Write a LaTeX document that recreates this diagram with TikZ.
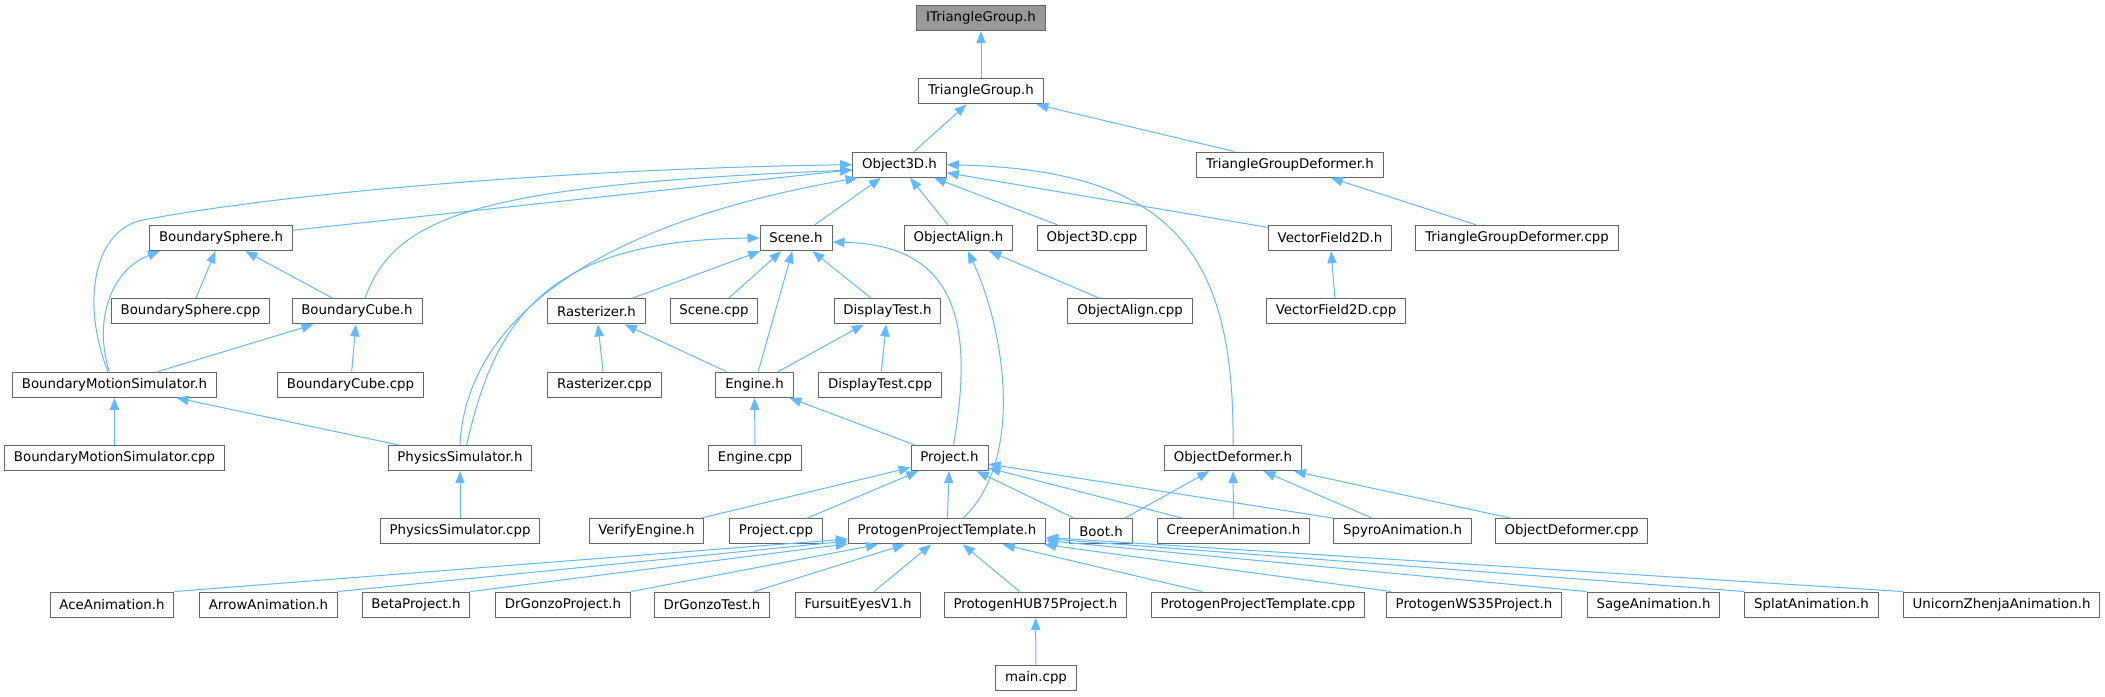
\documentclass[tikz,border=0pt]{standalone}
\usepackage{fontspec}
\setmainfont{DejaVu Sans}
\usepackage{tikz}
\usetikzlibrary{arrows.meta}
\definecolor{edgeblue}{HTML}{63B8FF}
\definecolor{boxline}{HTML}{666666}
\definecolor{rootfill}{HTML}{999999}
\tikzset{
  hfile/.style={draw=boxline, fill=white, line width=0.75pt, inner xsep=7pt, inner ysep=0pt, minimum height=19pt, font=\fontsize{10}{12}\selectfont},
  rootfile/.style={hfile, fill=rootfill},
  dep/.style={-{Triangle[length=9pt, width=7pt]}, line width=0.75pt, draw=edgeblue}
}

\begin{document}
\begin{tikzpicture}[x=0.75pt, y=-0.75pt]
  \fill[white] (0,0) rectangle (2105,696);
  \useasboundingbox (0,0) rectangle (2105,696);

  % top of the graph
  \node[rootfile] (itg) at (981,18) {ITriangleGroup.h};
  \node[hfile] (tg) at (981,91.3) {TriangleGroup.h};
  \node[hfile] (obj3d) at (899.5,164.7) {Object3D.h};
  \node[hfile] (tgd) at (1290,164.7) {TriangleGroupDeformer.h};

  \node[hfile] (bsph) at (221,238) {BoundarySphere.h};
  \node[hfile] (scene) at (796,238) {Scene.h};
  \node[hfile] (oalign) at (958.5,238) {ObjectAlign.h};
  \node[hfile] (obj3dcpp) at (1092,238) {Object3D.cpp};
  \node[hfile] (vf) at (1330,238) {VectorField2D.h};
  \node[hfile] (tgdcpp) at (1517,238) {TriangleGroupDeformer.cpp};

  \node[hfile] (bsphcpp) at (190.5,311.3) {BoundarySphere.cpp};
  \node[hfile] (bcube) at (357,311.3) {BoundaryCube.h};
  \node[hfile] (rast) at (596.5,311.3) {Rasterizer.h};
  \node[hfile] (scenecpp) at (714,311.3) {Scene.cpp};
  \node[hfile] (dtest) at (887.5,311.3) {DisplayTest.h};
  \node[hfile] (oaligncpp) at (1130,311.3) {ObjectAlign.cpp};
  \node[hfile] (vfcpp) at (1336,311.3) {VectorField2D.cpp};

  \node[hfile] (bms) at (114.5,384.7) {BoundaryMotionSimulator.h};
  \node[hfile] (bcubecpp) at (350.5,384.7) {BoundaryCube.cpp};
  \node[hfile] (rastcpp) at (604.5,384.7) {Rasterizer.cpp};
  \node[hfile] (engine) at (754.5,384.7) {Engine.h};
  \node[hfile] (dtestcpp) at (880,384.7) {DisplayTest.cpp};

  \node[hfile] (bmscpp) at (114.5,458) {BoundaryMotionSimulator.cpp};
  \node[hfile] (phys) at (460,458) {PhysicsSimulator.h};
  \node[hfile] (enginecpp) at (755,458) {Engine.cpp};
  \node[hfile] (project) at (949.5,458) {Project.h};
  \node[hfile] (odef) at (1233,458) {ObjectDeformer.h};

  \node[hfile] (physcpp) at (460,531.3) {PhysicsSimulator.cpp};
  \node[hfile] (verify) at (646.5,531.3) {VerifyEngine.h};
  \node[hfile] (projcpp) at (776,531.3) {Project.cpp};
  \node[hfile] (ppt) at (947,531.3) {ProtogenProjectTemplate.h};
  \node[hfile] (boot) at (1101,531.3) {Boot.h};
  \node[hfile] (creeper) at (1233.5,531.3) {CreeperAnimation.h};
  \node[hfile] (spyro) at (1402.5,531.3) {SpyroAnimation.h};
  \node[hfile] (odefcpp) at (1571.5,531.3) {ObjectDeformer.cpp};

  % users of the project template
  \node[hfile] (ace) at (112,604.7) {AceAnimation.h};
  \node[hfile] (arrowanim) at (268.5,604.7) {ArrowAnimation.h};
  \node[hfile] (beta) at (416,604.7) {BetaProject.h};
  \node[hfile] (drgp) at (563,604.7) {DrGonzoProject.h};
  \node[hfile] (drgt) at (712,604.7) {DrGonzoTest.h};
  \node[hfile] (fursuit) at (858,604.7) {FursuitEyesV1.h};
  \node[hfile] (hub75) at (1035.5,604.7) {ProtogenHUB75Project.h};
  \node[hfile] (pptcpp) at (1258,604.7) {ProtogenProjectTemplate.cpp};
  \node[hfile] (ws35) at (1474,604.7) {ProtogenWS35Project.h};
  \node[hfile] (sage) at (1653.5,604.7) {SageAnimation.h};
  \node[hfile] (splat) at (1811.5,604.7) {SplatAnimation.h};
  \node[hfile] (unicorn) at (2001.5,604.7) {UnicornZhenjaAnimation.h};

  \node[hfile] (maincpp) at (1036,678) {main.cpp};

  % straight includes
  \draw[dep] (tg) -- (itg);
  \draw[dep] (obj3d) -- (tg);
  \draw[dep] (tgd) -- (tg);
  \draw[dep] (tgdcpp) -- (tgd);
  \draw[dep] (bsph) -- (obj3d);
  \draw[dep] (scene) -- (obj3d);
  \draw[dep] (oalign) -- (obj3d);
  \draw[dep] (obj3dcpp) -- (obj3d);
  \draw[dep] (vf) -- (obj3d);
  \draw[dep] (vfcpp) -- (vf);
  \draw[dep] (oaligncpp) -- (oalign);
  \draw[dep] (bsphcpp) -- (bsph);
  \draw[dep] (bcube) -- (bsph);
  \draw[dep] (bms) -- (bcube);
  \draw[dep] (bcubecpp) -- (bcube);
  \draw[dep] (bmscpp) -- (bms);
  \draw[dep] (phys) -- (bms);
  \draw[dep] (physcpp) -- (phys);
  \draw[dep] (rast) -- (scene);
  \draw[dep] (scenecpp) -- (scene);
  \draw[dep] (engine) -- (scene);
  \draw[dep] (dtest) -- (scene);
  \draw[dep] (rastcpp) -- (rast);
  \draw[dep] (engine) -- (rast);
  \draw[dep] (engine) -- (dtest);
  \draw[dep] (dtestcpp) -- (dtest);
  \draw[dep] (enginecpp) -- (engine);
  \draw[dep] (project) -- (engine);
  \draw[dep] (verify) -- (project);
  \draw[dep] (projcpp) -- (project);
  \draw[dep] (ppt) -- (project);
  \draw[dep] (boot) -- (project);
  \draw[dep] (creeper) -- (project);
  \draw[dep] (spyro.north west) -- (project);
  \draw[dep] (boot) -- (odef);
  \draw[dep] (creeper) -- (odef);
  \draw[dep] (spyro) -- (odef);
  \draw[dep] (odefcpp) -- (odef);
  \draw[dep] (ace.north east) -- (ppt);
  \draw[dep] (arrowanim.north east) -- (ppt);
  \draw[dep] (beta.north east) -- (ppt);
  \draw[dep] (drgp.north east) -- (ppt);
  \draw[dep] (drgt) -- (ppt);
  \draw[dep] (fursuit) -- (ppt);
  \draw[dep] (hub75) -- (ppt);
  \draw[dep] (pptcpp) -- (ppt);
  \draw[dep] ([xshift=4pt]ws35.north west) -- (ppt);
  \draw[dep] (sage.north west) -- (ppt);
  \draw[dep] (splat.north west) -- (ppt);
  \draw[dep] (unicorn.north west) -- (ppt);
  \draw[dep] (maincpp) -- (hub75);

  % curved includes
  \draw[dep] ([xshift=-5pt]bms.north) .. controls (80,300) and (95,229) .. (143,220) .. controls (300,190) and (600,168) .. (obj3d.west);
  \draw[dep] ([xshift=-4pt]bms.north) .. controls (92,315) and (115,268) .. ([xshift=8pt]bsph.south west);
  \draw[dep] ([xshift=6pt]bcube.north) .. controls (395,215) and (480,185) .. ([yshift=-4pt]obj3d.west);
  \draw[dep] (phys.north) .. controls (465,340) and (560,230) .. ([xshift=4pt]obj3d.south west);
  \draw[dep] ([xshift=5pt]phys.north) .. controls (495,320) and (545,240) .. (scene.west);
  \draw[dep] ([xshift=3pt]project.north) .. controls (975,320) and (955,245) .. ([yshift=-3pt]scene.east);
  \draw[dep] ([xshift=12pt]ppt.north) .. controls (1025,460) and (1005,330) .. ([xshift=7pt]oalign.south);
  \draw[dep] (odef.north) .. controls (1235,250) and (1170,170) .. (obj3d.east);
\end{tikzpicture}
\end{document}
